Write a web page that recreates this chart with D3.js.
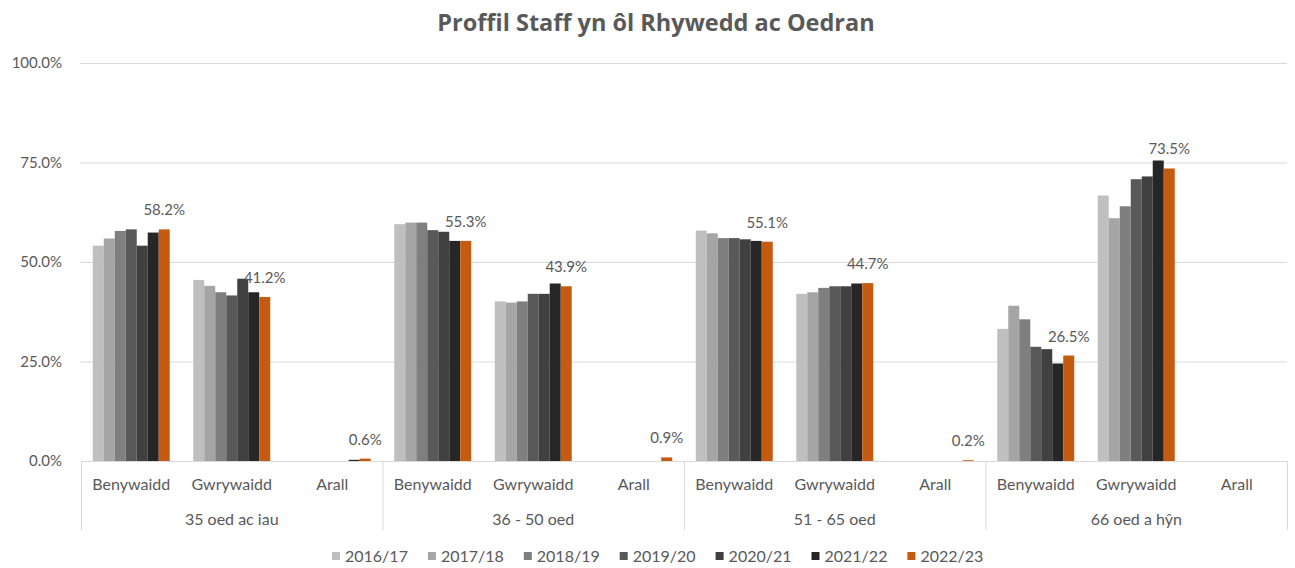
<!DOCTYPE html>
<html>
<head>
<meta charset="utf-8">
<script src="https://cdn.jsdelivr.net/npm/d3@7"></script>
<style>
  body { margin: 0; background: #fff; }
  svg text { font-family: Lato, "Open Sans", sans-serif; fill: #595959; }
</style>
</head>
<body>
<div id="chart"></div>
<script>
// groups along the axis (outer) and categories inside each group
let ageGroups = ['35 oed ac iau', '36 - 50 oed', '51 - 65 oed', '66 oed a hŷn'];
let genders = ['Benywaidd', 'Gwrywaidd', 'Arall'];
let years = ['2016/17', '2017/18', '2018/19', '2019/20', '2020/21', '2021/22', '2022/23'];
let colours = ['#bfbfbf', '#a5a5a5', '#7f7f7f', '#595959', '#404040', '#262626', '#c55a11'];
let yTicks = [0, 25, 50, 75, 100];

// one value per (age group, gender), in order: Ben, Gwr, Arall for each group
let v2016 = [54.1, 45.5, 0, 59.5, 40.1, 0, 57.9, 42.0, 0, 33.2, 66.7, null];
let v2017 = [55.9, 44.0, 0, 59.9, 39.8, 0, 57.2, 42.4, 0, 39.0, 61.0, null];
let v2018 = [57.8, 42.4, 0, 59.9, 40.1, 0, 56.0, 43.5, 0, 35.6, 64.0, null];
let v2019 = [58.2, 41.6, 0, 58.0, 42.0, 0, 56.0, 43.9, 0, 28.7, 70.8, null];
let v2020 = [54.1, 45.8, 0, 57.6, 42.0, 0, 55.7, 43.9, 0, 28.1, 71.5, null];
let v2021 = [57.4, 42.4, 0.3, 55.3, 44.6, 0, 55.3, 44.6, 0, 24.5, 75.5, null];
let v2022 = [58.2, 41.2, 0.6, 55.3, 43.9, 0.9, 55.1, 44.7, 0.2, 26.5, 73.5, null];
let seriesValues = [v2016, v2017, v2018, v2019, v2020, v2021, v2022];

let width = 1295, height = 568;
let margin = { top: 63, right: 8, bottom: 107, left: 81 };
let baseY = height - margin.bottom;

let svg = d3.select('#chart').append('svg')
  .attr('width', width)
  .attr('height', height);

svg.append('text')
  .attr('x', 656)
  .attr('y', 31)
  .attr('text-anchor', 'middle')
  .style('font-family', '"Open Sans", Lato, sans-serif')
  .style('font-size', '23.5px')
  .style('font-weight', 'bold')
  .text('Proffil Staff yn ôl Rhywedd ac Oedran');

let y = d3.scaleLinear().domain([0, 100]).range([baseY, margin.top]);

let x0 = d3.scaleBand().domain(ageGroups)
  .range([margin.left, width - margin.right]);
let x1 = d3.scaleBand().domain(genders).range([0, x0.bandwidth()]);
let x2 = d3.scaleBand().domain(years).range([0, x1.bandwidth()]).paddingOuter(1.07);

// gridlines + y labels
let grid = svg.append('g');
grid.selectAll('line').data(yTicks.slice(1)).enter().append('line')
  .attr('x1', margin.left - 1)
  .attr('x2', width - margin.right)
  .attr('y1', d => y(d) + 0.5)
  .attr('y2', d => y(d) + 0.5)
  .attr('stroke', '#d9d9d9');

svg.append('g').selectAll('text').data(yTicks).enter().append('text')
  .attr('x', 62)
  .attr('y', d => y(d))
  .attr('dy', '0.35em')
  .attr('text-anchor', 'end')
  .style('font-size', '15px')
  .text(d => d3.format('.1f')(d) + '%');

// bars
let cells = [];
ageGroups.forEach((g, gi) => {
  genders.forEach((s, si) => {
    years.forEach((yr, yi) => {
      let v = seriesValues[yi][gi * genders.length + si];
      if (v !== null) cells.push({ group: g, gender: s, year: yr, yi: yi, value: v });
    });
  });
});

let xPos = d => x0(d.group) + x1(d.gender) + x2(d.year);

svg.append('g').selectAll('rect').data(cells).enter().append('rect')
  .attr('x', xPos)
  .attr('width', x2.bandwidth())
  .attr('y', d => y(d.value))
  .attr('height', d => baseY - y(d.value))
  .attr('fill', d => colours[d.yi]);

// data labels for the last year only
svg.append('g').selectAll('text')
  .data(cells.filter(d => d.year === years[years.length - 1]))
  .enter().append('text')
  .attr('x', d => xPos(d) + x2.bandwidth() / 2)
  .attr('y', d => y(d.value) - 14)
  .attr('text-anchor', 'middle')
  .style('font-size', '15px')
  .text(d => d3.format('.1f')(d.value) + '%');

// category axis
let axis = svg.append('g').attr('stroke', '#d9d9d9');
axis.append('line')
  .attr('x1', margin.left).attr('x2', width - margin.right)
  .attr('y1', baseY + 0.5).attr('y2', baseY + 0.5);
axis.selectAll('line.div').data(ageGroups.concat(['end'])).enter().append('line')
  .attr('class', 'div')
  .attr('x1', d => d === 'end' ? width - margin.right : x0(d))
  .attr('x2', d => d === 'end' ? width - margin.right : x0(d))
  .attr('y1', baseY)
  .attr('y2', baseY + 69)
  .attr('transform', 'translate(0.5,0)');

ageGroups.forEach(g => {
  svg.append('g').selectAll('text').data(genders).enter().append('text')
    .attr('x', d => x0(g) + x1(d) + x1.bandwidth() / 2)
    .attr('y', baseY + 23)
    .attr('dy', '0.35em')
    .attr('text-anchor', 'middle')
    .style('font-size', '16px')
    .text(d => d);
});

svg.append('g').selectAll('text').data(ageGroups).enter().append('text')
  .attr('x', d => x0(d) + x0.bandwidth() / 2)
  .attr('y', baseY + 58)
  .attr('dy', '0.35em')
  .attr('text-anchor', 'middle')
  .style('font-size', '16px')
  .text(d => d);

// legend
let legend = svg.append('g').selectAll('g').data(years).enter().append('g')
  .attr('transform', (d, i) => 'translate(' + (332 + i * 95.9) + ',552)');
legend.append('rect')
  .attr('width', 8).attr('height', 8)
  .attr('fill', (d, i) => colours[i]);
legend.append('text')
  .attr('x', 13)
  .attr('y', 4)
  .attr('dy', '0.35em')
  .style('font-size', '16px')
  .text(d => d);
</script>
</body>
</html>
